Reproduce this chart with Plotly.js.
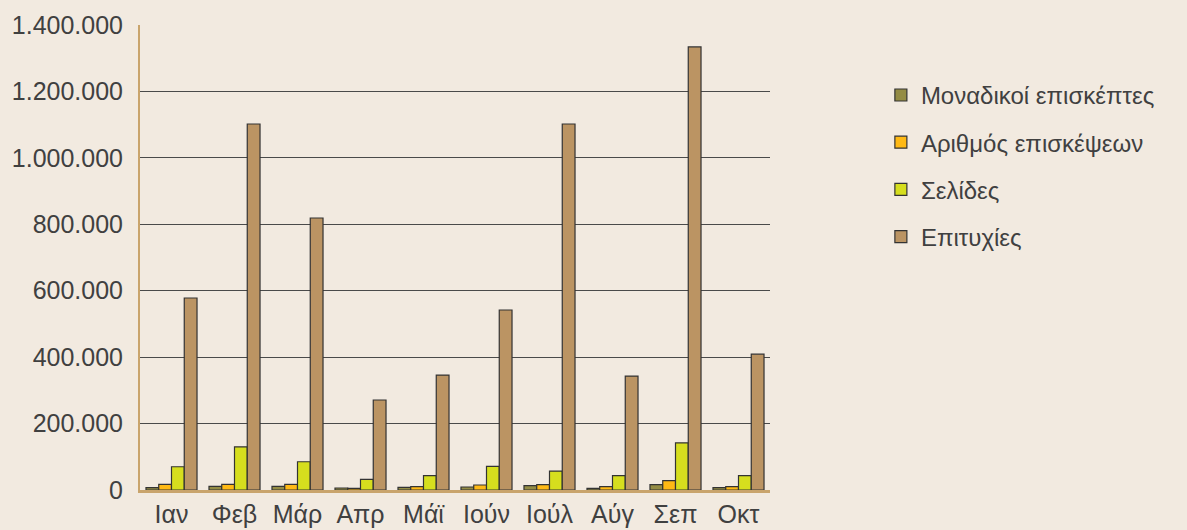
<!DOCTYPE html>
<html>
<head>
<meta charset="utf-8">
<script src="https://cdn.plot.ly/plotly-3.0.1.min.js"></script>
<style>html,body{margin:0;padding:0;background:#f2eae0;}</style>
</head>
<body>
<div id="chart" style="width:1187px;height:530px;"></div>
<script>
const months = ["Ιαν","Φεβ","Μάρ","Απρ","Μάϊ","Ιούν","Ιούλ","Αύγ","Σεπ","Οκτ"];
const uniqueVisitors = [7000, 11000, 11000, 6000, 8000, 9000, 13000, 5000, 16000, 7000];
const visits = [17000, 17000, 17000, 5000, 10000, 15000, 16000, 10000, 28000, 10000];
const pages = [70000, 130000, 85000, 32000, 43000, 71000, 57000, 43000, 142000, 43000];
const hits = [578000, 1102000, 819000, 271000, 346000, 542000, 1102000, 343000, 1334000, 409000];
const seriesNames = ["Μοναδικοί επισκέπτες","Αριθμός επισκέψεων","Σελίδες","Επιτυχίες"];
const colors = ["#948c44","#ffb914","#d6de1e","#bb9463"];
const values = [uniqueVisitors, visits, pages, hits];

const data = values.map((v,i)=>({
  type:"bar", x:months, y:v, name:seriesNames[i], legendgroup:"g"+i,
  marker:{color:colors[i], line:{color:"#333333", width:1.2}},
  hoverinfo:"y+name"
}));

const layout = {
  width:1187, height:530,
  paper_bgcolor:"#f2eae0", plot_bgcolor:"#f2eae0",
  margin:{l:140, r:417, t:25, b:40},
  separators:",.",
  barmode:"group", bargap:0.19, bargroupgap:0,
  font:{family:"Liberation Sans, Arial, sans-serif", size:25, color:"#404040"},
  xaxis:{showline:true, linecolor:"#c9a46c", linewidth:3, showgrid:false, ticks:"", tickfont:{size:25,color:"#404040"}, fixedrange:true},
  yaxis:{range:[0,1400000], dtick:200000, tickformat:",d", showgrid:true, gridcolor:"#4a4a4a", gridwidth:1,
         showline:true, linecolor:"#c9a46c", linewidth:2, zeroline:false, ticks:"", ticklen:0, ticklabelstandoff:10,
         tickfont:{size:25,color:"#404040"}, fixedrange:true},
  showlegend:true,
  legend:{x:1.176, y:0.897, xanchor:"left", yanchor:"top", bgcolor:"rgba(0,0,0,0)",
          font:{size:24,color:"#404040"}, traceorder:"grouped", tracegroupgap:13, itemwidth:30}
};
Plotly.newPlot("chart", data, layout, {displayModeBar:false, staticPlot:true});
</script>
</body>
</html>
